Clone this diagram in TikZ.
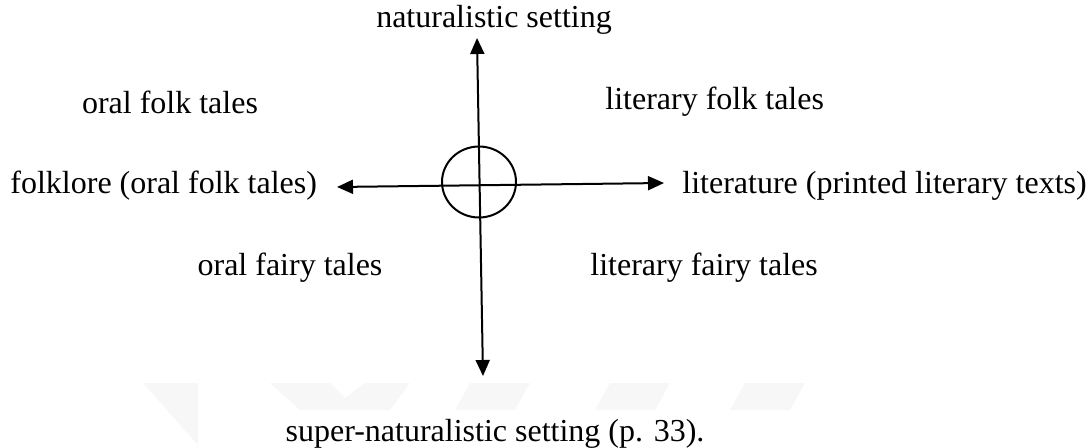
\documentclass[tikz,border=0pt]{standalone}
\usepackage{fontspec}
\setmainfont{Liberation Serif}
\usetikzlibrary{arrows.meta}
\tikzset{
  axis/.style={line width=1pt, {Triangle[length=8pt,width=7pt]}-{Triangle[length=8pt,width=7pt]}},
  lbl/.style={inner sep=0pt}
}
\begin{document}
\begin{tikzpicture}[x=0.5pt, y=-0.5pt, font=\fontsize{16}{19}\selectfont]
      \useasboundingbox (0,0) rectangle (1090,448);

      % faint watermark behind the bottom label
      \fill[gray!6] (143,383) -- (198,383) -- (198,445) -- cycle;
      \fill[gray!6] (270,383) -- (330,383) -- (345,398) -- (365,383) -- (410,383) -- (390,410) -- (300,410) -- cycle;
      \fill[gray!6] (470,383) -- (530,383) -- (515,410) -- (455,410) -- cycle;
      \fill[gray!6] (610,383) -- (670,383) -- (655,410) -- (595,410) -- cycle;
      \fill[gray!6] (745,383) -- (805,383) -- (790,410) -- (730,410) -- cycle;

      % axis ends
      \coordinate (top) at (477,38);
      \coordinate (bot) at (483,376);
      \coordinate (left) at (337,187);
      \coordinate (right) at (664,183);

      % the two axes and the circle round their crossing
      \draw[axis] (top) -- (bot);
      \draw[axis] (left) -- (right);
      \draw[line width=1pt] (479,182) ellipse (37 and 35.5);

      % axis labels
      \node[lbl] (natural) at (494,20) {naturalistic setting};
      \node[lbl] (super) at (495,434) {super-naturalistic setting (p. 33).};
      \node[lbl, anchor=west] (folklore) at (10,186) {folklore (oral folk tales)};
      \node[lbl, anchor=west] (literature) at (682,186) {literature (printed literary texts)};

      % quadrant labels
      \node[lbl] (oralfolk) at (170,102) {oral folk tales};
      \node[lbl, anchor=west] (litfolk) at (605,102) {literary folk tales};
      \node[lbl] (oralfairy) at (290,268) {oral fairy tales};
      \node[lbl, anchor=west] (litfairy) at (590,268) {literary fairy tales};
\end{tikzpicture}
\end{document}
